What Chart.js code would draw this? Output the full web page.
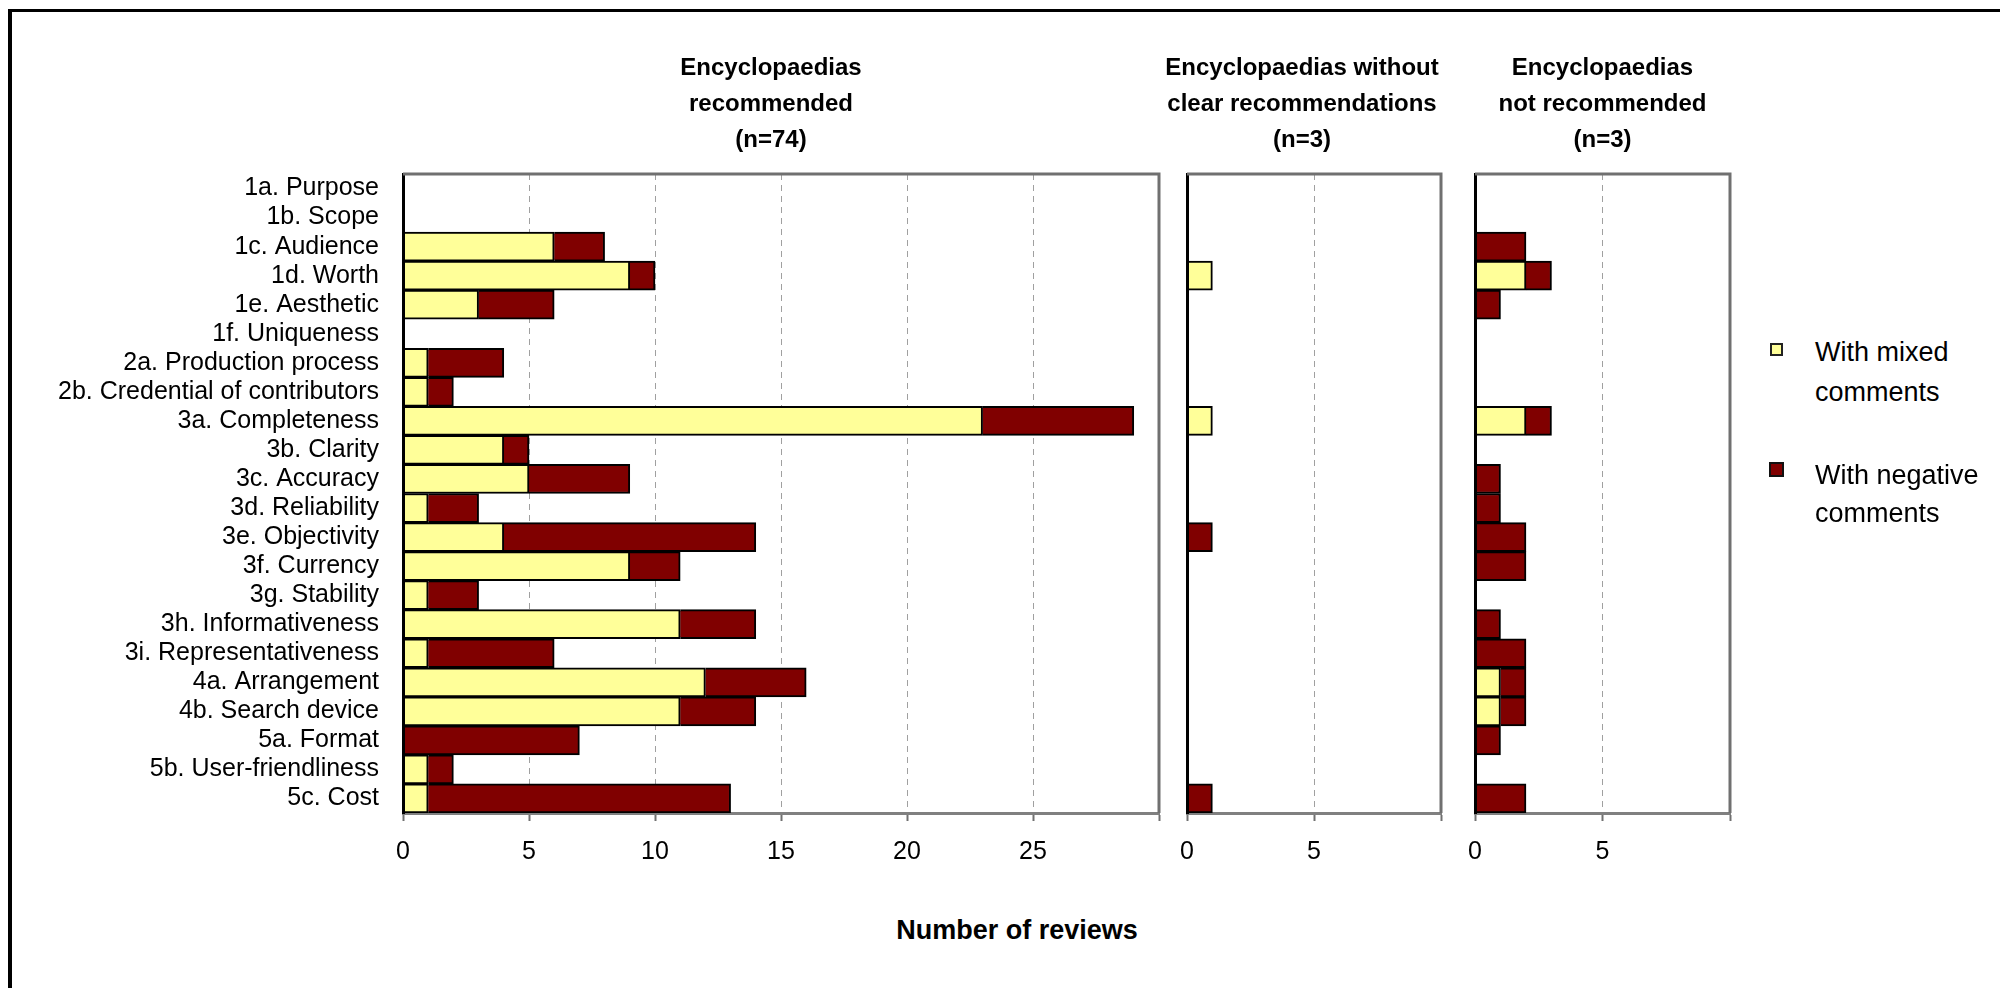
<!DOCTYPE html>
<html>
<head>
<meta charset="utf-8">
<script src="https://cdn.jsdelivr.net/npm/chart.js@4/dist/chart.umd.min.js"></script>
<style>
  html, body { margin: 0; padding: 0; background: #fff; }
  body { width: 2000px; height: 988px; position: relative; overflow: hidden;
         font-family: "Liberation Sans", Arial, sans-serif; color: #000; }
  .frame { position: absolute; left: 8px; top: 9px; width: 2010px; height: 1000px;
           border-top: 3px solid #000; border-left: 4px solid #000; }
  .panel { position: absolute; top: 0; }
  .axis-title { position: absolute; left: 817px; top: 910px; width: 400px; text-align: center;
                font-weight: bold; font-size: 27px; line-height: 40px; }
  .legend-text { position: absolute; left: 1815px; font-size: 27px; }
  .swatch { position: absolute; box-sizing: border-box; }
</style>
</head>
<body>
<div class="frame"></div>
<canvas id="recommended" class="panel" width="1175" height="900" style="left:0px;width:1175px;height:900px"></canvas>
<canvas id="unclear" class="panel" width="340" height="900" style="left:1135px;width:340px;height:900px"></canvas>
<canvas id="notRecommended" class="panel" width="330" height="900" style="left:1440px;width:330px;height:900px"></canvas>

<div class="axis-title">Number of reviews</div>

<div class="swatch" style="left:1770px;top:343px;width:13px;height:13px;background:#FFFF99;border:2px solid #222"></div>
<div class="legend-text" style="top:332px;line-height:40px">With mixed<br>comments</div>
<div class="swatch" style="left:1769px;top:462px;width:15px;height:15px;background:#800000;border:2px solid #111"></div>
<div class="legend-text" style="top:456px;line-height:38px">With negative<br>comments</div>

<script>
// Evaluation criteria, top to bottom
const categories = [
  '1a. Purpose', '1b. Scope', '1c. Audience', '1d. Worth', '1e. Aesthetic',
  '1f. Uniqueness', '2a. Production process', '2b. Credential of contributors',
  '3a. Completeness', '3b. Clarity', '3c. Accuracy', '3d. Reliability',
  '3e. Objectivity', '3f. Currency', '3g. Stability', '3h. Informativeness',
  '3i. Representativeness', '4a. Arrangement', '4b. Search device',
  '5a. Format', '5b. User-friendliness', '5c. Cost'
];

// Encyclopaedias recommended (n=74)
const recommendedMixed    = [0, 0, 6, 9, 3, 0, 1, 1, 23, 4, 5, 1, 4, 9, 1, 11, 1, 12, 11, 0, 1, 1];
const recommendedNegative = [0, 0, 2, 1, 3, 0, 3, 1, 6, 1, 4, 2, 10, 2, 2, 3, 5, 4, 3, 7, 1, 12];

// Encyclopaedias without clear recommendations (n=3)
const unclearMixed    = [0, 0, 0, 1, 0, 0, 0, 0, 1, 0, 0, 0, 0, 0, 0, 0, 0, 0, 0, 0, 0, 0];
const unclearNegative = [0, 0, 0, 0, 0, 0, 0, 0, 0, 0, 0, 0, 1, 0, 0, 0, 0, 0, 0, 0, 0, 1];

// Encyclopaedias not recommended (n=3)
const notRecommendedMixed    = [0, 0, 0, 2, 0, 0, 0, 0, 2, 0, 0, 0, 0, 0, 0, 0, 0, 1, 1, 0, 0, 0];
const notRecommendedNegative = [0, 0, 2, 1, 1, 0, 0, 0, 1, 0, 1, 1, 2, 2, 0, 1, 2, 1, 1, 1, 0, 2];

// Panel headings
const recommendedTitle    = ['Encyclopaedias', 'recommended', '(n=74)'];
const unclearTitle        = ['Encyclopaedias without', 'clear recommendations', '(n=3)'];
const notRecommendedTitle = ['Encyclopaedias', 'not recommended', '(n=3)'];

// Axis ranges
const recommendedMax = 30;
const smallPanelMax = 10;
const tickStep = 5;

const seriesNames = ['With mixed comments', 'With negative comments'];
const MIXED_COLOR = '#FFFF99';
const NEGATIVE_COLOR = '#800000';
const FONT = '"Liberation Sans", Arial, sans-serif';

// Draws the gray top/right frame of each plot and its centred heading
const panelDecor = {
  id: 'panelDecor',
  afterDraw(chart, args, opts) {
    const { ctx, chartArea: a } = chart;
    ctx.save();
    ctx.strokeStyle = '#707070';
    ctx.lineWidth = 3;
    ctx.beginPath();
    ctx.moveTo(a.left, a.top);
    ctx.lineTo(a.right, a.top);
    ctx.lineTo(a.right, a.bottom);
    ctx.stroke();

    ctx.fillStyle = '#000';
    ctx.font = 'bold 24px ' + FONT;
    ctx.textAlign = 'center';
    ctx.textBaseline = 'middle';
    const cx = (a.left + a.right) / 2 + (opts.shift || 0);
    (opts.lines || []).forEach((t, i) => ctx.fillText(t, cx, 68 + i * 36));
    ctx.restore();
  }
};

function makePanel(id, mixed, negative, max, yWidth, rightPad, showLabels, titleLines, titleShift) {
  return new Chart(document.getElementById(id), {
    type: 'bar',
    data: {
      labels: categories,
      datasets: [
        { label: seriesNames[0], data: mixed, backgroundColor: MIXED_COLOR,
          borderColor: '#000', borderWidth: 2 },
        { label: seriesNames[1], data: negative, backgroundColor: NEGATIVE_COLOR,
          borderColor: '#000', borderWidth: 2 }
      ]
    },
    options: {
      indexAxis: 'y',
      responsive: false,
      animation: false,
      layout: { padding: { top: 174, right: rightPad, left: 0, bottom: 0 } },
      datasets: { bar: { categoryPercentage: 1, barPercentage: 1 } },
      plugins: {
        legend: { display: false },
        title: { display: false },
        tooltip: { enabled: false },
        panelDecor: { lines: titleLines, shift: titleShift }
      },
      scales: {
        x: {
          stacked: true,
          min: 0,
          max: max,
          afterFit(scale) { scale.height = 87; },
          ticks: {
            stepSize: tickStep,
            autoSkip: false,
            maxRotation: 0,
            padding: 16,
            color: '#000',
            font: { family: FONT, size: 25 },
            callback(value) { return value === max ? '' : value; }
          },
          grid: {
            color(ctx) {
              const v = ctx.tick ? ctx.tick.value : null;
              return (v === 0 || v === max) ? 'rgba(0,0,0,0)' : '#a0a0a0';
            },
            lineWidth: 1,
            tickColor: '#707070',
            tickWidth: 2,
            tickLength: 8
          },
          border: { color: '#808080', width: 3, dash: [6, 5] }
        },
        y: {
          stacked: true,
          afterFit(scale) { scale.width = yWidth; },
          ticks: {
            display: showLabels,
            autoSkip: false,
            padding: 24,
            color: '#000',
            font: { family: FONT, size: 25 }
          },
          grid: { display: false, drawTicks: false },
          border: { color: '#000', width: 3, z: 1 }
        }
      }
    },
    plugins: [panelDecor]
  });
}

makePanel('recommended', recommendedMixed, recommendedNegative, recommendedMax, 403, 13, true, recommendedTitle, -10);
makePanel('unclear', unclearMixed, unclearNegative, smallPanelMax, 52, 34, false, unclearTitle, -12);
makePanel('notRecommended', notRecommendedMixed, notRecommendedNegative, smallPanelMax, 35, 40, false, notRecommendedTitle, 0);
</script>
</body>
</html>
